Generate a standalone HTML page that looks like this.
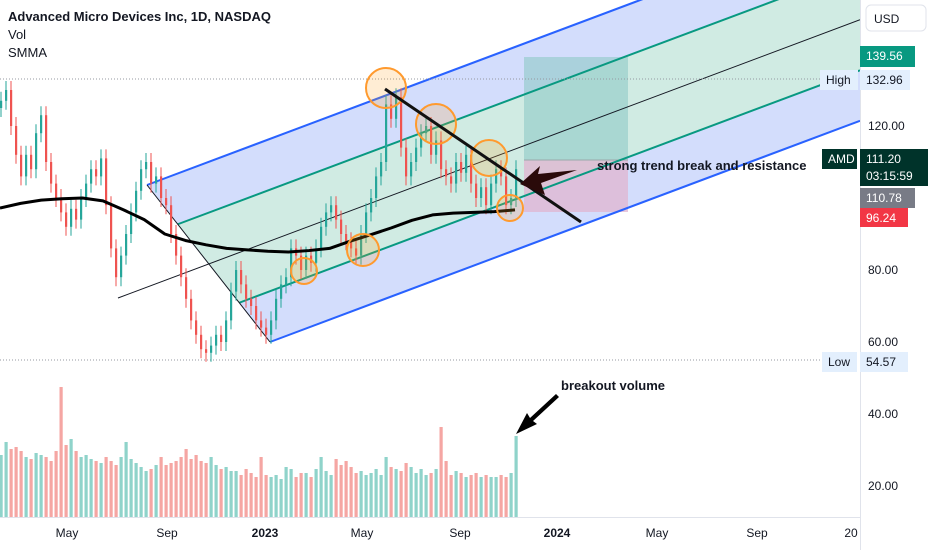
<!DOCTYPE html>
<html><head><meta charset="utf-8">
<style>
body{margin:0;background:#fff;width:932px;height:550px;overflow:hidden;font-family:"Liberation Sans",sans-serif}
svg{position:absolute;left:0;top:0}
text{font-family:"Liberation Sans",sans-serif}
</style></head>
<body>
<svg id="c" width="932" height="550" viewBox="0 0 932 550">
  <defs><clipPath id="pane"><rect x="0" y="0" width="860" height="517"/></clipPath></defs>
  <g id="fills" clip-path="url(#pane)"></g>
  <g id="volume" clip-path="url(#pane)"></g>
  <g id="candles" clip-path="url(#pane)"></g>
  <g id="smma" clip-path="url(#pane)"></g>
  <g id="annot" clip-path="url(#pane)"></g>
  <g id="axis"></g>
  <g id="taxis"></g>
  <g>
    <text x="8" y="21" font-size="13" font-weight="bold" fill="#131722">Advanced Micro Devices Inc, 1D, NASDAQ</text>
    <text x="8" y="39" font-size="13" fill="#131722">Vol</text>
    <text x="8" y="57" font-size="13" fill="#131722">SMMA</text>
  </g>
</svg>
<script>
const closes=[127,130,120,112,106,112,108,118,123,110,104,100,96,92,97,94,100,104,108,106,111,98,86,78,84,90,96,102,108,110,104,106,100,98,90,84,78,72,66,62,58,57,59,62,60,66,74,80,76,72,70,66,64,62,66,72,76,78,86,84,80,84,82,86,92,96,98,94,90,88,86,84,90,96,100,106,110,126,122,128,114,106,110,114,118,120,112,116,108,106,104,110,107,112,104,100,103,98,104,108,106,98,100,108];
const volumes=[62,75,68,70,66,60,58,64,62,60,56,66,130,72,78,66,60,62,58,56,54,60,56,52,60,75,58,54,50,46,48,52,60,52,54,56,60,68,58,62,56,54,60,52,48,50,46,46,42,48,44,40,60,42,40,42,38,50,48,40,44,44,40,48,60,46,42,58,52,56,50,44,46,42,44,48,42,60,50,48,46,54,50,44,48,42,44,48,90,56,42,46,44,40,42,44,40,42,40,40,42,40,44,81];
const smmaVals=[97.2,98.5,99.4,99.8,100,99.2,96.7,94,90,88.2,87,86,85.6,85.2,85,85.4,86,88,89.8,91.7,93.8,95.3,95.8,96,96.2,96.7];
const priceTicks=["120.00","80.00","60.00","40.00","20.00"];
const priceTickVals=[120,80,60,40,20];
const timeLabels=["May","Sep","2023","May","Sep","2024","May","Sep","20"];
const timeLabelPos=[67,167,265,362,460,557,657,757,851];

const NS="http://www.w3.org/2000/svg";
function el(tag,attrs,parent){const e=document.createElementNS(NS,tag);for(const k in attrs)e.setAttribute(k,attrs[k]);parent.appendChild(e);return e;}
const yP=v=>126+(120-v)*3.6;
const xI=i=>1+i*5;
const yV=v=>517-v;

const m=-0.375,A=[118,298],B=[147,185],C=[270,342];
const yU=x=>B[1]+m*(x-B[0]), yL=x=>C[1]+m*(x-C[0]), yM=x=>A[1]+m*(x-A[0]);
const yUG=x=>(yU(x)+yM(x))/2, yLG=x=>(yL(x)+yM(x))/2;
const F=document.getElementById('fills');
let p=el('polygon',{points:`${B[0]},${B[1]} 860,${yU(860)} 860,${yL(860)} ${C[0]},${C[1]}`,fill:'#d3ddfc'},F);

const g1=[B[0]+0.25*(C[0]-B[0]),B[1]+0.25*(C[1]-B[1])],g2=[B[0]+0.75*(C[0]-B[0]),B[1]+0.75*(C[1]-B[1])];
p=el('polygon',{points:`${g1[0]},${g1[1]} 860,${yUG(860)} 860,${yLG(860)} ${g2[0]},${g2[1]}`,fill:'#d0ebe3'},F);

p=el('rect',{x:524,y:57,width:104,height:103,fill:'#8fc9c7',opacity:0.6},F);

p=el('rect',{x:524,y:160,width:104,height:52,fill:'#e0b4d0',opacity:0.75},F);

el('line',{x1:524,y1:160,x2:628,y2:160,stroke:'#9aa',"stroke-width":1},F);
const lines=[[B[0],B[1],860,yU(860),'#2962ff',2,'pitchfork-upper'],[C[0],C[1],860,yL(860),'#2962ff',2,'pitchfork-lower'],
[g1[0],g1[1],860,yUG(860),'#089981',2,'pitchfork-upper-inner'],[g2[0],g2[1],860,yLG(860),'#089981',2,'pitchfork-lower-inner'],
[A[0],A[1],860,yM(860),'#131722',1,'pitchfork-median'],[B[0],B[1],C[0],C[1],'#131722',1,'pitchfork-handle']];
lines.forEach(l=>{const e=el('line',{x1:l[0],y1:l[1],x2:l[2],y2:l[3],stroke:l[4],"stroke-width":l[5]},F);});
[[79,'high-line'],[360,'low-line']].forEach(d=>{const e=el('line',{x1:0,y1:d[0],x2:820,y2:d[0],stroke:'#9598a1',"stroke-dasharray":'1 2'},F);});

const V=document.getElementById('volume');
volumes.forEach((v,i)=>{const up=i===0||closes[i]>=closes[i-1];
 const r=el('rect',{x:xI(i)-1.5,y:yV(v),width:3.2,height:v,fill:up?'#8fd3ca':'#f5a6a3'},V);
 });
const Cg=document.getElementById('candles');
closes.forEach((c,i)=>{const o=i===0?c-2:closes[i-1];const up=c>=o;const col=up?'#26a69a':'#ef5350';
 const hi=Math.max(o,c)+2.5,lo=Math.min(o,c)-2.5,x=xI(i);
 const w=el('line',{x1:x,y1:yP(hi),x2:x,y2:yP(lo),stroke:col,"stroke-width":1},Cg);
 
 const r=el('rect',{x:x-1,y:yP(Math.max(o,c)),width:2.2,height:Math.max(1,Math.abs(o-c)*3.6),fill:col},Cg);
 });
const S=document.getElementById('smma');
const sp=el('polyline',{points:smmaVals.map((v,i)=>`${i*(515/(smmaVals.length-1))},${yP(v)}`).join(' '),fill:'none',stroke:'#000',"stroke-width":3,"stroke-linejoin":'round'},S);


const N=document.getElementById('annot');
[[386,88,20],[436,124,20],[489,158,18],[510,208,13],[363,250,16],[304,271,13]].forEach(c=>{
 const e=el('circle',{cx:c[0],cy:c[1],r:c[2],fill:'rgba(255,167,38,0.2)',stroke:'#ff9a2e',"stroke-width":2},N);
 });
let e=el('line',{x1:385,y1:89,x2:581,y2:222,stroke:'#111',"stroke-width":3},N);

e=el('polygon',{points:'577,170 538,174 540,166 520,184 545,195 541,183',fill:'#2a0a0a'},N);

e=el('text',{x:597,y:170,"font-size":13,"font-weight":'bold',fill:'#131722'},N);e.textContent='strong trend break and resistance';

e=el('text',{x:561,y:390,"font-size":13,"font-weight":'bold',fill:'#131722'},N);e.textContent='breakout volume';

e=el('polygon',{points:'556,394 530,418 527,413 516,434 537,424 533,421 559,397',fill:'#000'},N);


const X=document.getElementById('axis');
el('line',{x1:860.5,y1:0,x2:860.5,y2:550,stroke:'#e0e3eb'},X);
el('line',{x1:0,y1:517.5,x2:860,y2:517.5,stroke:'#e0e3eb'},X);
let u=el('rect',{x:866,y:5,width:60,height:26,rx:5,fill:'#fff',stroke:'#e0e3eb'},X);

u=el('text',{x:874,y:23,"font-size":12,fill:'#131722'},X);u.textContent='USD';
priceTicks.forEach((t,i)=>{const tx=el('text',{x:868,y:yP(priceTickVals[i])+4,"font-size":12,fill:'#131722'},X);tx.textContent=t;
 });
function lab(x,y,w,h,bg,fg,txt,name,t2){const r=el('rect',{x:x,y:y,width:w,height:h,fill:bg},X);
 const t=el('text',{x:x+6,y:y+14,"font-size":12,fill:fg},X);t.textContent=txt;
 if(t2){const t3=el('text',{x:x+6,y:y+31,"font-size":12,fill:fg},X);t3.textContent=t2;}}
lab(860,46,55,21,'#089981','#fff','139.56','target-price-label');
lab(820,70,38,20,'#e3effd','#131722','High','high-tag');
lab(860,70,50,20,'#e3effd','#131722','132.96','high-price-label');
lab(822,149,35,20,'#00332a','#fff','AMD','symbol-tag');
lab(860,149,68,37,'#00332a','#fff','111.20','last-price-label','03:15:59');
lab(860,188,55,20,'#787b86','#fff','110.78','entry-price-label');
lab(860,208,48,19,'#f23645','#fff','96.24','smma-price-label');
lab(822,352,35,20,'#e3effd','#131722','Low','low-tag');
lab(860,352,48,20,'#e3effd','#131722','54.57','low-price-label');

const T=document.getElementById('taxis');
timeLabels.forEach((t,i)=>{const bold=t.length===4;const tx=el('text',{x:timeLabelPos[i],y:537,"font-size":12,"text-anchor":'middle',fill:'#131722',"font-weight":bold?'bold':'normal'},T);
 tx.textContent=t;});
</script>
</body></html>
